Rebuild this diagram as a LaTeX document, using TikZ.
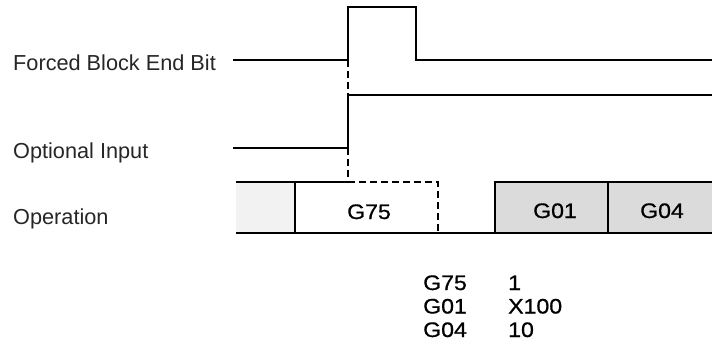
\documentclass[tikz,border=0pt]{standalone}
\usepackage{fontspec}
\setmainfont{Liberation Sans}
\newfontfamily\gfont[FakeStretch=1.1,FakeBold=0.8]{Liberation Sans}
\tikzset{
  sig/.style={line width=2pt, line join=miter},
  dsh/.style={line width=1.5pt, dash pattern=on 7pt off 4pt},
  lbl/.style={anchor=base west, inner sep=0pt, text=black!85, font=\fontsize{21.7}{26}\selectfont},
  code/.style={anchor=base, inner sep=0pt, font=\gfont\fontsize{21}{25}\selectfont},
  codel/.style={code, anchor=base west},
}
\begin{document}
\begin{tikzpicture}[x=1pt,y=-1pt]
\useasboundingbox (0,0) rectangle (712,357);
% labels
\node[lbl] (lfbe) at (13,70.5) {Forced Block End Bit};
\node[lbl] (loi) at (13,158) {Optional Input};
\node[lbl] (lop) at (13,224) {Operation};
% forced block end bit
\coordinate (f0) at (233,60);
\coordinate (f1) at (348,60);
\coordinate (f2) at (348,7);
\coordinate (f3) at (416,7);
\coordinate (f4) at (416,60);
\coordinate (f5) at (712,60);
\draw[sig] (f0) -- (f1) -- (f2) -- (f3) -- (f4) -- (f5);
% optional input
\coordinate (o0) at (233,148);
\coordinate (o1) at (348,148);
\coordinate (o2) at (348,95);
\coordinate (o3) at (712,95);
\draw[sig] (o0) -- (o1) -- (o2) -- (o3);
% dashed guides
\coordinate (b0) at (348,182);
\draw[dsh] (f1) -- (o2);
\draw[dsh] (o1) -- (b0);
% operation row
\fill[gray!10] (236,182) rectangle (295,233);
\fill[gray!28] (495,182) rectangle (712,233);
\draw[sig] (236,182) -- (b0);
\draw[dsh] (b0) -- (438,182) -- (438,233);
\draw[sig] (295,182) -- (295,233);
\draw[sig] (236,233) -- (712,233);
\draw[sig] (495,233) -- (495,182) -- (712,182);
\draw[sig] (608,182) -- (608,233);
\node[code] (g75) at (369,219) {G75};
\node[code] (g01) at (555,218) {G01};
\node[code] (g04) at (662,218) {G04};
% legend
\node[codel] (c1) at (423,290) {G75};
\node[codel] (v1) at (508,290) {1};
\node[codel] (c2) at (423,313.5) {G01};
\node[codel] (v2) at (508,313.5) {X100};
\node[codel] (c3) at (423,337) {G04};
\node[codel] (v3) at (508,337) {10};
\end{tikzpicture}
\end{document}
